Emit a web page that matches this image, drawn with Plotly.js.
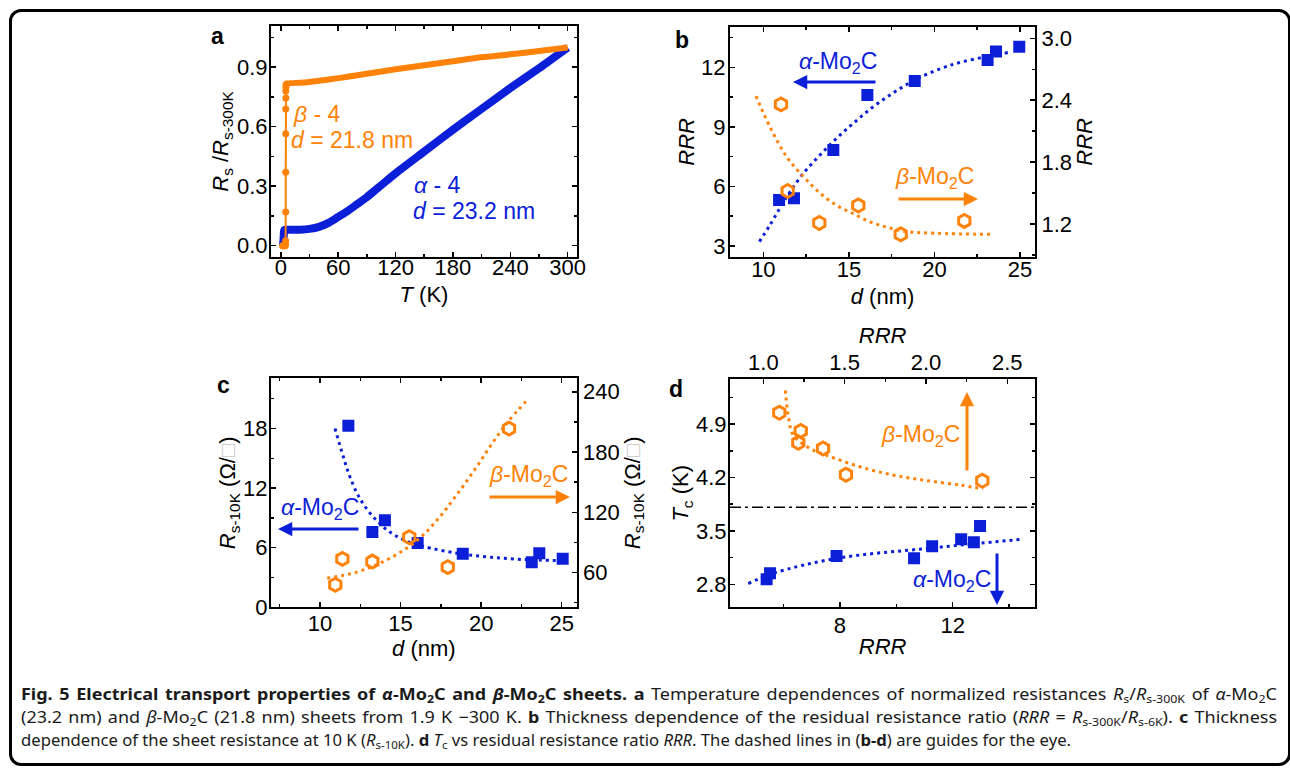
<!DOCTYPE html>
<html>
<head>
<meta charset="utf-8">
<script src="https://cdn.plot.ly/plotly-3.0.1.min.js"></script>
<style>
  html, body { margin: 0; padding: 0; background: #fff; }
  #wrap { position: relative; width: 1290px; height: 770px; overflow: hidden; background: #fff; }
  #frame { position: absolute; left: 9px; top: 9px; width: 1282px; height: 757px; border: 3px solid #000; border-radius: 12px; box-sizing: border-box; }
  #chart { position: absolute; left: 0; top: 0; width: 1290px; height: 770px; }
  .cap { position: absolute; left: 21px; white-space: nowrap; font-family: "Noto Sans", "Open Sans", sans-serif; font-size: 16px; color: #1a1a1a; transform-origin: 0 50%; line-height: 20px; }
  .cap sub { font-size: 11px; vertical-align: -3px; line-height: 0; }
</style>
</head>
<body>
<div id="wrap">
  <div id="frame"></div>
  <div id="chart"></div>
  <div class="cap" id="cap1" style="top:684px"><b>Fig. 5 Electrical transport properties of <i>α</i>-Mo<sub>2</sub>C and <i>β</i>-Mo<sub>2</sub>C sheets.</b> <b>a</b> Temperature dependences of normalized resistances <i>R</i><sub>s</sub>/<i>R</i><sub>s-300K</sub> of <i>α</i>-Mo<sub>2</sub>C</div>
  <div class="cap" id="cap2" style="top:707px">(23.2 nm) and <i>β</i>-Mo<sub>2</sub>C (21.8 nm) sheets from 1.9 K −300 K. <b>b</b> Thickness dependence of the residual resistance ratio (<i>RRR</i> = <i>R</i><sub>s-300K</sub>/<i>R</i><sub>s-6K</sub>). <b>c</b> Thickness</div>
  <div class="cap" id="cap3" style="top:730px">dependence of the sheet resistance at 10 K (<i>R</i><sub>s-10K</sub>). <b>d</b> <i>T</i><sub>c</sub> vs residual resistance ratio <i>RRR</i>. The dashed lines in (<b>b-d</b>) are guides for the eye.</div>
</div>
<script>
// ---------------- DATA ----------------
// Panel a: normalized resistance vs temperature
const aBetaT = [1.9, 2.5, 3.0, 3.5, 4.0, 4.5, 5.0, 5.1, 5.2, 5.2, 5.2, 5.2, 5.3, 5.3, 5.4, 5.6, 6, 8, 10, 20, 30, 40, 60, 80, 100, 120, 150, 180, 210, 240, 270, 300];
const aBetaR = [0, 0, 0, 0, 0, 0, 0.005, 0.025, 0.17, 0.37, 0.565, 0.69, 0.745, 0.78, 0.80, 0.81, 0.815, 0.818, 0.82, 0.822, 0.826, 0.832, 0.845, 0.86, 0.875, 0.89, 0.91, 0.93, 0.95, 0.965, 0.982, 1.0];
const aAlphaT = [1.9, 2.5, 3.0, 3.5, 4, 6, 10, 20, 30, 40, 50, 60, 70, 80, 90, 100, 110, 120, 150, 180, 210, 240, 270, 300];
const aAlphaR = [0.0, 0.01, 0.04, 0.075, 0.08, 0.08, 0.08, 0.081, 0.085, 0.095, 0.115, 0.145, 0.175, 0.21, 0.245, 0.285, 0.325, 0.365, 0.475, 0.585, 0.69, 0.795, 0.895, 1.0];

// Panel b: RRR vs thickness
const bAlphaD = [10.92, 11.79, 14.09, 16.08, 18.85, 23.11, 23.60, 24.96];
const bAlphaRRR = [5.32, 5.40, 7.84, 10.61, 11.31, 12.37, 12.79, 13.04];
const bBetaD = [11.03, 11.42, 13.27, 15.55, 18.03, 21.75];
const bBetaRRR = [2.36, 1.52, 1.21, 1.38, 1.10, 1.23];
const bAlphaGuideD = [9.77, 10.39, 11.37, 12.34, 13.31, 14.29, 15.26, 16.24, 17.21, 18.18, 19.16, 21.1, 23.06, 24.42];
const bAlphaGuideRRR = [3.22, 4.06, 5.48, 6.66, 7.58, 8.43, 9.18, 9.89, 10.49, 11.03, 11.5, 12.15, 12.54, 12.76];
const bBetaGuideD = [9.57, 10.39, 11.37, 12.34, 13.31, 14.29, 15.26, 16.24, 17.21, 18.18, 20.13, 23.25];
const bBetaGuideRRR = [2.44, 2.14, 1.85, 1.66, 1.50, 1.38, 1.30, 1.22, 1.17, 1.13, 1.11, 1.10];

// Panel c: sheet resistance at 10 K vs thickness
const cAlphaD = [11.76, 13.25, 14.03, 16.06, 18.86, 23.14, 23.61, 25.06];
const cAlphaR = [18.27, 7.57, 8.75, 6.46, 5.39, 4.54, 5.45, 4.88];
const cBetaD = [10.95, 11.39, 13.25, 15.54, 17.93, 21.73];
const cBetaR = [47.8, 73.6, 70.9, 95.2, 65.4, 203.3];
const cAlphaGuideD = [10.93, 11.45, 11.86, 12.48, 13.31, 14.34, 15.38, 16.41, 18.48, 20.55, 22.62, 24.9];
const cAlphaGuideR = [18.0, 15.14, 13.12, 10.94, 9.09, 7.57, 6.66, 6.13, 5.45, 5.05, 4.81, 4.71];
const cBetaGuideD = [10.45, 12.28, 13.93, 15.38, 16.41, 17.45, 18.48, 19.52, 20.55, 21.59, 22.77];
const cBetaGuideR = [54.4, 60.4, 70.9, 84.3, 97.5, 115.7, 137.3, 160.5, 185.4, 208.7, 230.2];

// Panel d: Tc vs RRR
const dAlphaRRR = [5.40, 5.52, 7.88, 10.63, 11.27, 12.30, 12.75, 12.97];
const dAlphaTc = [2.866, 2.944, 3.17, 3.14, 3.30, 3.39, 3.35, 3.565];
const dBetaRRR = [1.098, 1.23, 1.215, 1.367, 1.508, 2.346];
const dBetaTc = [5.048, 4.81, 4.655, 4.58, 4.236, 4.157];
const dAlphaGuideRRR = [4.75, 5.63, 7.88, 11.08, 14.45];
const dAlphaGuideTc = [2.81, 2.944, 3.14, 3.27, 3.39];
const dBetaGuideRRR = [1.135, 1.154, 1.184, 1.287, 1.39, 1.594, 1.80, 2.0, 2.21, 2.35];
const dBetaGuideTc = [5.34, 4.996, 4.756, 4.58, 4.49, 4.34, 4.23, 4.16, 4.10, 4.05];
const dTcLine = 3.81;

// ---------------- STYLE ----------------
const W = 1290, H = 770;
const px = x => x / W;
const py = y => 1 - y / H;
const BLUE = '#0b1ed8';
const ORANGE = '#ff8208';
const FONT = '"Liberation Sans", Arial, sans-serif';
const TICKSIZE = 22;

function ax(extra) {
  const base = {
    showgrid: false, zeroline: false, showline: true, linecolor: '#000', linewidth: 2,
    ticks: 'inside', ticklen: 5, tickwidth: 1.5, tickcolor: '#000',
    tickfont: {family: FONT, size: TICKSIZE, color: '#000'},
    automargin: false, fixedrange: true,
    minor: {ticks: 'inside', ticklen: 3, tickwidth: 1.5, tickcolor: '#000', showgrid: false},
    title: {font: {family: FONT, size: 22, color: '#000'}}
  };
  const out = Object.assign({}, base, extra);
  if (extra.minorD !== undefined) { out.minor = Object.assign({}, base.minor, {dtick: extra.minorD}); delete out.minorD; }
  if (extra.titleText !== undefined) { out.title = Object.assign({}, base.title, {text: extra.titleText, standoff: extra.standoff}); delete out.titleText; delete out.standoff; }
  return out;
}

const dom = {
  a: {x: [px(271), px(577)], y: [py(257), py(26)]},
  b: {x: [px(730), px(1035)], y: [py(256.7), py(27)]},
  c: {x: [px(271), px(576.7)], y: [py(607.3), py(378.3)]},
  d: {x: [px(730), px(1035.3)], y: [py(607.3), py(379.3)]}
};

const dotLine = c => ({color: c, width: 3, dash: '3px,4px', shape: 'spline'});
const sq = {symbol: 'square', size: 12, color: BLUE};
const hex = {symbol: 'hexagon-open', size: 13, color: ORANGE, line: {width: 3, color: ORANGE}};

const betaTransT = aBetaT.filter(t => t <= 6);
const betaTransR = aBetaR.filter((r, i) => aBetaT[i] <= 6);
const betaNormT = aBetaT.filter(t => t >= 5.4);
const betaNormR = aBetaR.filter((r, i) => aBetaT[i] >= 5.4);

const traces = [
  // panel a
  {x: aAlphaT, y: aAlphaR, xaxis: 'x', yaxis: 'y', mode: 'lines', line: {color: BLUE, width: 8, shape: 'spline', smoothing: 0.6}, hoverinfo: 'skip'},
  {x: betaNormT, y: betaNormR, xaxis: 'x', yaxis: 'y', mode: 'lines', line: {color: ORANGE, width: 6, shape: 'spline', smoothing: 0.6}, hoverinfo: 'skip'},
  {x: betaTransT, y: betaTransR, xaxis: 'x', yaxis: 'y', mode: 'lines+markers', line: {color: ORANGE, width: 2}, marker: {color: ORANGE, size: 7}, hoverinfo: 'skip'},
  // panel b
  {x: bAlphaGuideD, y: bAlphaGuideRRR, xaxis: 'x2', yaxis: 'y2', mode: 'lines', line: dotLine(BLUE)},
  {x: bAlphaD, y: bAlphaRRR, xaxis: 'x2', yaxis: 'y2', mode: 'markers', marker: sq},
  {x: bBetaGuideD, y: bBetaGuideRRR, xaxis: 'x2', yaxis: 'y3', mode: 'lines', line: dotLine(ORANGE)},
  {x: bBetaD, y: bBetaRRR, xaxis: 'x2', yaxis: 'y3', mode: 'markers', marker: hex},
  // panel c
  {x: cAlphaGuideD, y: cAlphaGuideR, xaxis: 'x3', yaxis: 'y4', mode: 'lines', line: dotLine(BLUE)},
  {x: cAlphaD, y: cAlphaR, xaxis: 'x3', yaxis: 'y4', mode: 'markers', marker: sq},
  {x: cBetaGuideD, y: cBetaGuideR, xaxis: 'x3', yaxis: 'y5', mode: 'lines', line: dotLine(ORANGE)},
  {x: cBetaD, y: cBetaR, xaxis: 'x3', yaxis: 'y5', mode: 'markers', marker: hex},
  // panel d
  {x: dAlphaGuideRRR, y: dAlphaGuideTc, xaxis: 'x4', yaxis: 'y6', mode: 'lines', line: dotLine(BLUE)},
  {x: dAlphaRRR, y: dAlphaTc, xaxis: 'x4', yaxis: 'y6', mode: 'markers', marker: sq},
  {x: dBetaGuideRRR, y: dBetaGuideTc, xaxis: 'x5', yaxis: 'y6', mode: 'lines', line: dotLine(ORANGE)},
  {x: dBetaRRR, y: dBetaTc, xaxis: 'x5', yaxis: 'y6', mode: 'markers', marker: hex}
];

const layout = {
  width: W, height: H, margin: {l: 0, r: 0, t: 0, b: 0},
  paper_bgcolor: 'rgba(0,0,0,0)', plot_bgcolor: 'rgba(0,0,0,0)',
  showlegend: false, hovermode: false,
  font: {family: FONT, color: '#000'},
  // a
  xaxis: ax({domain: dom.a.x, anchor: 'y', range: [-10.2, 309.7], tick0: 0, dtick: 60, minorD: 30, mirror: 'ticks', ticklabelstandoff: -10, titleText: '<i>T</i> (K)', standoff: 7}),
  yaxis: ax({domain: dom.a.y, anchor: 'x', range: [-0.057, 1.108], tick0: 0, dtick: 0.3, minorD: 0.15, tickformat: '.1f', mirror: 'ticks', ticklabelstandoff: -3, titleText: '<i>R</i><sub>s</sub> /<i>R</i><sub>s-300K</sub>', standoff: 2}),
  // b
  xaxis2: ax({domain: dom.b.x, anchor: 'y2', range: [8.05, 25.88], tick0: 0, dtick: 5, minorD: 2.5, mirror: 'ticks', ticklabelstandoff: -8, titleText: '<i>d</i> (nm)', standoff: 8}),
  yaxis2: ax({domain: dom.b.y, anchor: 'x2', range: [2.46, 14.03], tick0: 0, dtick: 3, minorD: 1.5, ticklabelstandoff: -2, titleText: '<i>RRR</i>', standoff: 0}),
  yaxis3: ax({domain: dom.b.y, anchor: 'x2', overlaying: 'y2', side: 'right', range: [0.883, 3.11], tick0: 0, dtick: 0.6, minorD: 0.3, tickformat: '.1f', titleText: '<i>RRR</i>', standoff: 4}),
  // c
  xaxis3: ax({domain: dom.c.x, anchor: 'y4', range: [6.96, 25.93], tick0: 0, dtick: 5, minorD: 2.5, mirror: 'ticks', ticklabelstandoff: -5, titleText: '<i>d</i> (nm)', standoff: 5}),
  yaxis4: ax({domain: dom.c.y, anchor: 'x3', range: [0, 23.05], tick0: 0, dtick: 6, minorD: 3, ticklabelstandoff: -3, titleText: '<i>R</i><sub>s-10K</sub> (Ω/<span style="color:#c8c8c8">□</span>)', standoff: 0}),
  yaxis5: ax({domain: dom.c.y, anchor: 'x3', overlaying: 'y4', side: 'right', range: [25.4, 253.4], tick0: 0, dtick: 60, minorD: 30, titleText: '<i>R</i><sub>s-10K</sub> (Ω/<span style="color:#c8c8c8">□</span>)', standoff: 4}),
  // d
  xaxis4: ax({domain: dom.d.x, anchor: 'y6', range: [4.1, 14.93], tick0: 0, dtick: 4, minorD: 2, ticklabelstandoff: -3, titleText: '<i>RRR</i>', standoff: 2}),
  xaxis5: ax({domain: dom.d.x, anchor: 'y6', overlaying: 'x4', side: 'top', range: [0.795, 2.672], tick0: 0, dtick: 0.5, minorD: 0.25, tickformat: '.1f', ticklabelstandoff: -1, titleText: '<i>RRR</i>', standoff: 0}),
  yaxis6: ax({domain: dom.d.y, anchor: 'x4', range: [2.499, 5.486], tick0: 0, dtick: 0.7, minorD: 0.35, tickformat: '.1f', mirror: 'ticks', ticklabelstandoff: -3, titleText: '<i>T</i><sub>c</sub> (K)', standoff: 0}),
  shapes: [
    {type: 'line', xref: 'x4 domain', yref: 'y6', x0: 0, x1: 1, y0: dTcLine, y1: dTcLine, line: {color: '#000', width: 1.5, dash: '11px,4px,3px,4px'}}
  ],
  annotations: []
};

const ann = layout.annotations;
function label(txt, x, y) {
  ann.push({text: '<b>' + txt + '</b>', xref: 'paper', yref: 'paper', x: px(x), y: py(y), xanchor: 'center', yanchor: 'middle', showarrow: false, font: {family: FONT, size: 23, color: '#000'}});
}
function txt(t, x, y, color, anchor) {
  ann.push({text: t, xref: 'paper', yref: 'paper', x: px(x), y: py(y), xanchor: anchor || 'center', yanchor: 'middle', showarrow: false, font: {family: FONT, size: 23, color: color}});
}
function arrow(hx, hy, tx, ty, color) {
  ann.push({text: '', xref: 'paper', yref: 'paper', x: px(hx), y: py(hy), axref: 'pixel', ayref: 'pixel', ax: tx - hx, ay: ty - hy,
    showarrow: true, arrowhead: 2, arrowsize: 0.95, arrowwidth: 3, arrowcolor: color, standoff: 0, startstandoff: 0});
}
label('a', 217, 36); label('b', 682, 40); label('c', 223, 385); label('d', 676, 389);
txt('<i>β</i> - 4', 291, 114, ORANGE, 'left');
txt('<i>d</i> = 21.8 nm', 289, 140, ORANGE, 'left');
txt('<i>α</i> - 4', 412, 185, BLUE, 'left');
txt('<i>d</i> = 23.2 nm', 411, 211, BLUE, 'left');
txt('<i>α</i>-Mo<sub>2</sub>C', 838, 63, BLUE);
txt('<i>β</i>-Mo<sub>2</sub>C', 935, 178, ORANGE);
txt('<i>α</i>-Mo<sub>2</sub>C', 320, 508, BLUE);
txt('<i>β</i>-Mo<sub>2</sub>C', 528, 475, ORANGE);
txt('<i>β</i>-Mo<sub>2</sub>C', 920, 435, ORANGE);
txt('<i>α</i>-Mo<sub>2</sub>C', 952, 580, BLUE);
arrow(793, 82, 877, 82, BLUE);
arrow(978, 199, 897, 199, ORANGE);
arrow(278, 529, 360, 529, BLUE);
arrow(570, 497, 488, 497, ORANGE);
arrow(967, 392, 967, 472, ORANGE);
arrow(997, 605, 997, 552, BLUE);

Plotly.newPlot('chart', traces, layout, {staticPlot: true, displayModeBar: false});

// caption: last line sets the base scale; justified lines 1-2 may be slightly wider glyphs, rest via word spacing
function fitCaption() {
  const ids = ['cap1', 'cap2', 'cap3'];
  ids.forEach(id => { const el = document.getElementById(id); el.style.transform = 'none'; el.style.wordSpacing = '0px'; });
  const w3 = document.getElementById('cap3').getBoundingClientRect().width;
  if (!(w3 > 0)) return;
  const s3 = 1050 / w3;
  document.getElementById('cap3').style.transform = 'scaleX(' + s3 + ')';
  ['cap1', 'cap2'].forEach(id => {
    const el = document.getElementById(id);
    const w = el.getBoundingClientRect().width;
    const s = Math.min(1256 / w, s3 * 1.08);
    const n = (el.textContent.match(/ /g) || []).length;
    if (n > 0) el.style.wordSpacing = ((1256 / s - w) / n) + 'px';
    el.style.transform = 'scaleX(' + s + ')';
  });
}
fitCaption();
if (document.fonts && document.fonts.ready) document.fonts.ready.then(fitCaption);
</script>
</body>
</html>
